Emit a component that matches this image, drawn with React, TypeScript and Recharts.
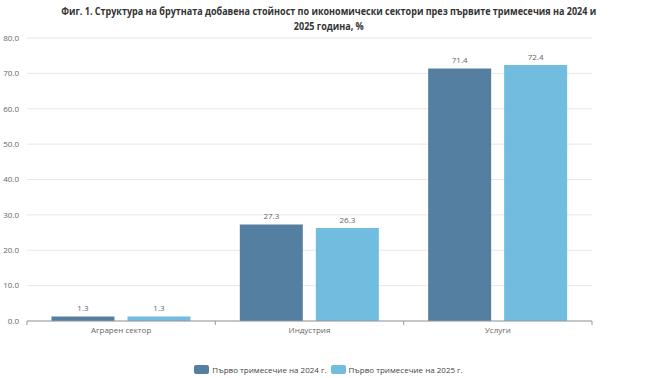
import React from 'react';
import { BarChart, Bar, XAxis, YAxis, CartesianGrid, Legend, LabelList } from 'recharts';

const sectors = ['Аграрен сектор', 'Индустрия', 'Услуги'];
const q1_2024 = [1.3, 27.3, 71.4];
const q1_2025 = [1.3, 26.3, 72.4];
const yTicks = [0, 10, 20, 30, 40, 50, 60, 70, 80];

const data = sectors.map((name, i) => ({ name, a: q1_2024[i], b: q1_2025[i] }));

const tickStyle = { fontSize: 8, fill: '#666', fontFamily: '"Open Sans", sans-serif' };

// category label plus the little boundary ticks at both band edges
const CategoryTick = (props: any) => {
  const { x, y, payload, index } = props;
  const half = payload && payload.offset ? payload.offset : 94;
  return (
    <g>
      {index === 0 && <line x1={x - half} x2={x - half} y1={y - 8} y2={y - 4} stroke="#999" />}
      <line x1={x + half} x2={x + half} y1={y - 8} y2={y - 4} stroke="#999" />
      <text x={x} y={y + 4} textAnchor="middle" {...tickStyle}>
        {payload.value}
      </text>
    </g>
  );
};

const renderLegend = (props: any) => {
  const { payload } = props;
  return (
    <div style={{ display: 'flex', justifyContent: 'center', gap: 4, fontFamily: '"Open Sans", sans-serif' }}>
      {payload.map((entry: any) => (
        <div key={entry.value} style={{ display: 'flex', alignItems: 'center' }}>
          <span
            style={{
              display: 'inline-block',
              width: 15,
              height: 9,
              borderRadius: 2,
              background: entry.color,
              marginRight: 3,
            }}
          />
          <span style={{ fontSize: 8, color: '#444' }}>{entry.value}</span>
        </div>
      ))}
    </div>
  );
};

const App: React.FC = () => {
  return (
    <div style={{ position: 'absolute', left: 0, top: 0, width: 657, height: 378, background: '#fff' }}>
      <div
        style={{
          position: 'absolute',
          top: 3,
          left: -100,
          width: 857,
          textAlign: 'center',
          fontFamily: '"Open Sans", sans-serif',
          fontWeight: 'bold',
          fontSize: 11,
          lineHeight: '15px',
          color: '#333',
          transform: 'scaleX(0.82)',
          transformOrigin: '430px 0',
          whiteSpace: 'nowrap',
        }}
      >
        Фиг. 1. Структура на брутната добавена стойност по икономически сектори през първите тримесечия на 2024 и
        <br />
        2025 година, %
      </div>
      <BarChart
        width={657}
        height={378}
        data={data}
        margin={{ top: 38, right: 65, left: 0, bottom: 3 }}
        barCategoryGap="13%"
        barGap={13}
      >
        <CartesianGrid vertical={false} stroke="#e8e8e8" />
        <XAxis
          dataKey="name"
          tick={<CategoryTick />}
          tickLine={false}
          axisLine={{ stroke: '#999' }}
          height={20}
        />
        <YAxis
          width={27}
          domain={[0, 80]}
          ticks={yTicks}
          tickFormatter={(v: number) => v.toFixed(1)}
          tick={tickStyle}
          axisLine={false}
          tickLine={false}
        />
        <Legend content={renderLegend} wrapperStyle={{ paddingTop: 23, left: 0, width: 657 }} />
        <Bar dataKey="a" name="Първо тримесечие на 2024 г." fill="#557fa0" isAnimationActive={false}>
          <LabelList dataKey="a" position="top" offset={5} style={tickStyle} formatter={(v: number) => v.toFixed(1)} />
        </Bar>
        <Bar dataKey="b" name="Първо тримесечие на 2025 г." fill="#70bde0" isAnimationActive={false}>
          <LabelList dataKey="b" position="top" offset={5} style={tickStyle} formatter={(v: number) => v.toFixed(1)} />
        </Bar>
      </BarChart>
    </div>
  );
};

export default App;
